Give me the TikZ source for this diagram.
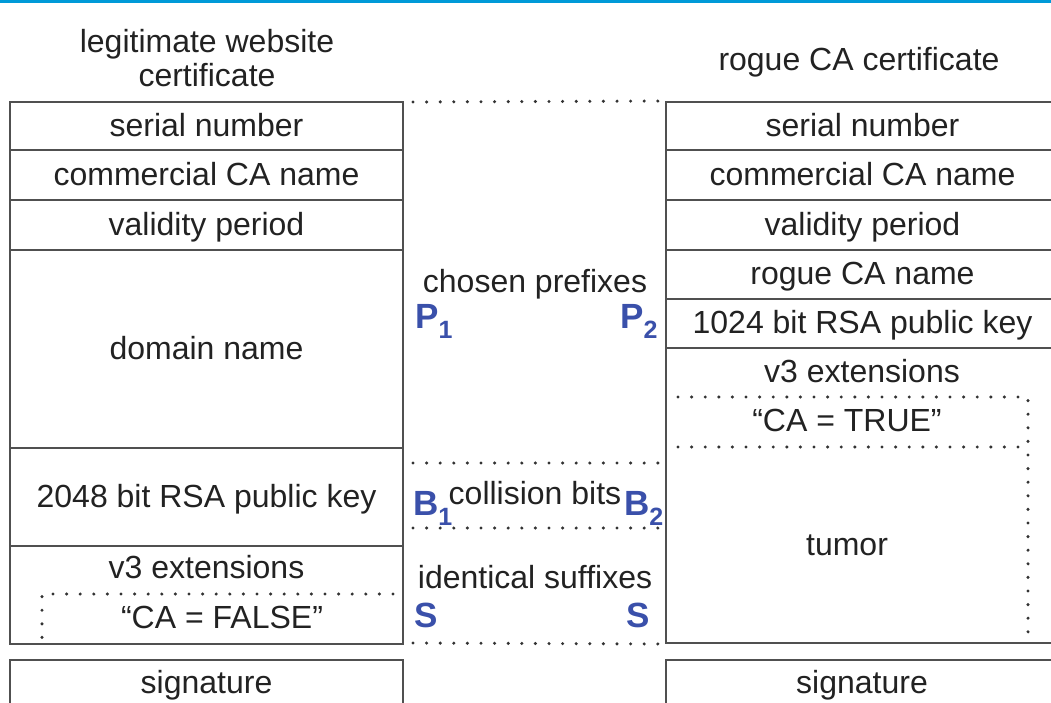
\documentclass[tikz,border=0pt]{standalone}
\usepackage{fontspec}
\setmainfont{Liberation Sans}
\definecolor{rule}{HTML}{505050}
\definecolor{dotc}{HTML}{333333}
\definecolor{ink}{HTML}{222222}
\definecolor{mark}{RGB}{58,80,170}
\definecolor{band}{RGB}{0,154,216}
\newcommand\subidx[1]{\raisebox{-10pt}{\fontsize{25}{25}\selectfont #1}}
\tikzset{
  txt/.style={inner sep=0pt, text=ink, font=\fontsize{32}{36}\selectfont,
    text height=24pt, text depth=4pt},
  field/.style={txt, draw=rule, line width=2pt, minimum width=393pt},
  dots/.style={draw=dotc, line width=3.4pt, line cap=round,
    dash pattern=on 0pt off 13.6pt},
  tag/.style={inner sep=0pt, text=mark, anchor=base west,
    font=\bfseries\fontsize{35}{35}\selectfont},
}
\begin{document}
\begin{tikzpicture}[x=1pt,y=-1pt]
\useasboundingbox (0,0) rectangle (1051,702);
\clip (0,0) rectangle (1051,702);
\fill[band] (0,0) rectangle (1051,2.5);

% column headings
\node[txt, align=center, text height=, text depth=, anchor=base] (hl) at (207,86)
  {legitimate website\\[-2pt]certificate};
\node[txt, text height=, text depth=, anchor=base] (hr) at (859,70) {rogue CA certificate};

% legitimate website certificate
\node[field, minimum height=48pt]  (l1) at (206.5,126) {serial number};
\node[field, minimum height=50pt]  (l2) at (206.5,175) {commercial CA name};
\node[field, minimum height=50pt]  (l3) at (206.5,225) {validity period};
\node[field, minimum height=198pt] (l4) at (206.5,349) {domain name};
\node[field, minimum height=98pt]  (l5) at (206.5,497) {2048 bit RSA public key};
\node[field, minimum height=98pt]  (l6) at (206.5,595) {};
\node[txt] (l6a) at (206.5,568) {v3 extensions};
\node[txt] (l6b) at (222,618) {“CA = FALSE”};
\node[field, minimum height=70pt]  (l7) at (206.5,695) {};
\node[txt] (l7a) at (206.5,683) {signature};

% rogue CA certificate
\node[field, minimum height=48pt]  (r1) at (862.5,126) {serial number};
\node[field, minimum height=50pt]  (r2) at (862.5,175) {commercial CA name};
\node[field, minimum height=50pt]  (r3) at (862.5,225) {validity period};
\node[field, minimum height=49pt]  (r4) at (862.5,274.5) {rogue CA name};
\node[field, minimum height=49pt]  (r5) at (862.5,323.5) {1024 bit RSA public key};
\node[field, minimum height=295pt] (r6) at (862.5,495.5) {};
\node[txt] (r6a) at (862,372) {v3 extensions};
\node[txt] (r6b) at (847,421) {“CA = TRUE”};
\node[txt] (r6c) at (847,545) {tumor};
\node[field, minimum height=70pt]  (r7) at (862.5,695) {};
\node[txt] (r7a) at (862,683) {signature};

% dotted inner fields
\coordinate (fa) at (42,594);  \coordinate (fb) at (393,594);
\coordinate (fc) at (42,646);
\draw[dots] (fb) -- (fa) -- (fc);
\coordinate (ta) at (678,397); \coordinate (tb) at (1028,397);
\coordinate (tc) at (678,447); \coordinate (td) at (1028,447);
\coordinate (te) at (1028,636);
\draw[dots] (ta) -- (tb) -- (te);
\draw[dots] (tc) -- (td);

% middle: block boundaries
\coordinate (m0a) at (413,102); \coordinate (m0b) at (r1.north west);
\coordinate (m1a) at (413,463); \coordinate (m1b) at (666,463);
\coordinate (m2a) at (413,528); \coordinate (m2b) at (666,528);
\coordinate (m3a) at (413,643); \coordinate (m3b) at (r6.south west);
\draw[dots] (m0a) -- (m0b);
\draw[dots] (m1a) -- (m1b);
\draw[dots] (m2a) -- (m2b);
\draw[dots] (m3a) -- (m3b);

\node[txt] (cp) at (535,282) {chosen prefixes};
\node[txt] (cb) at (535,494) {collision bits};
\node[txt] (is) at (535,578) {identical suffixes};

\node[tag] (p1) at (415,328) {P\subidx{1}};
\node[tag] (p2) at (620,328) {P\subidx{2}};
\node[tag] (b1) at (413,515) {B\subidx{1}};
\node[tag] (b2) at (624,515) {B\subidx{2}};
\node[tag] (s1) at (414,627) {S};
\node[tag] (s2) at (626,627) {S};
\end{tikzpicture}
\end{document}
